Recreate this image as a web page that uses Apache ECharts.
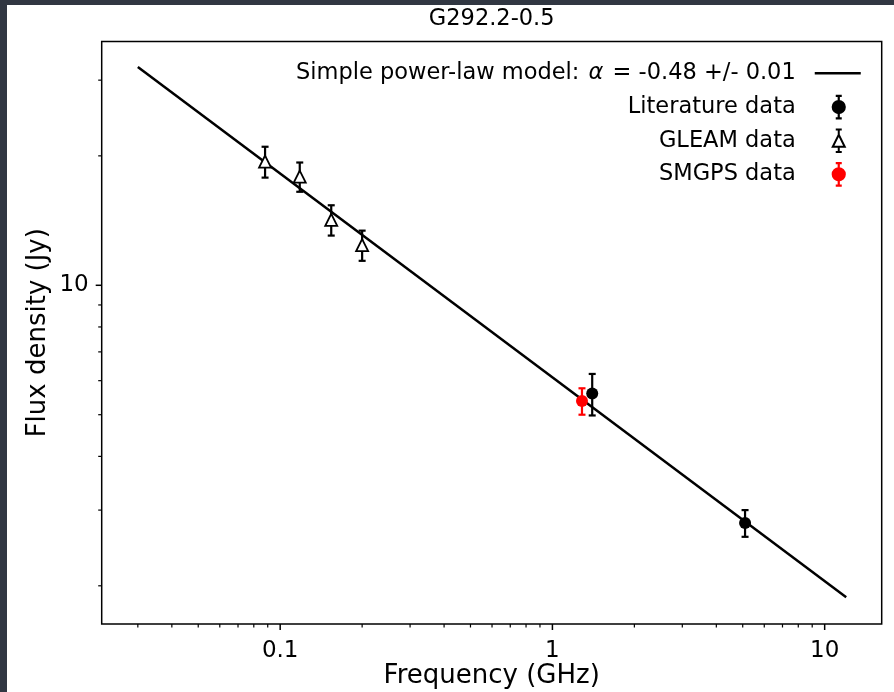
<!DOCTYPE html>
<html><head><meta charset="utf-8">
<script src="https://cdn.jsdelivr.net/npm/echarts@6/dist/echarts.min.js"></script>
<style>
html,body{margin:0;padding:0;background:#313742;width:894px;height:692px;overflow:hidden}
#c{position:absolute;left:7px;top:5px;width:887px;height:687px;background:#fff}
</style></head><body><div id="c"></div>
<script>
const chartTitle = 'G292.2-0.5';
const xAxisName = 'Frequency (GHz)';
const yAxisName = 'Flux density (Jy)';
const modelName = 'Simple power-law model: α = -0.48 +/- 0.01';
const litName = 'Literature data';
const gleamName = 'GLEAM data';
const smgpsName = 'SMGPS data';

const modelFreq = [0.03, 12];
const modelFlux = [32.2, 1.88];
const litFreq = [1.4, 5.1];
const litFlux = [5.6, 2.8];
const litErr = [0.62, 0.2];
const gleamFreq = [0.088, 0.118, 0.154, 0.200];
const gleamFlux = [19.4, 17.9, 14.2, 12.4];
const gleamErr = [1.6, 1.4, 1.15, 1.0];
const smgpsFreq = [1.284];
const smgpsFlux = [5.38];
const smgpsErr = [0.38];

const xMajorTicks = [0.1, 1, 10];
const xMinorTicks = [0.03,0.04,0.05,0.06,0.07,0.08,0.09,0.2,0.3,0.4,0.5,0.6,0.7,0.8,0.9,2,3,4,5,6,7,8,9];
const yMajorTicks = [10];
const yMinorTicks = [2,3,4,5,6,7,8,9,20,30];
const xRange = [0.0221, 16.2];
const yRange = [1.63, 36.9];

const FONT = 'DejaVu Sans';
const isDecade = v => Math.abs(Math.log10(v) - Math.round(Math.log10(v))) < 1e-6;
const fmt = v => isDecade(v) ? String(+(+v).toPrecision(6)) : '';

function pairs(xs, ys) { return xs.map((x, i) => [x, ys[i]]); }
function errData(xs, ys, es) { return xs.map((x, i) => [x, ys[i] - es[i], ys[i] + es[i]]); }

function errSeries(data, color) {
  return {
    type: 'custom', silent: true, z: 3, data: data,
    encode: {x: 0, y: [1, 2]},
    renderItem: function (p, api) {
      const x = api.value(0);
      const top = api.coord([x, api.value(2)]);
      const bot = api.coord([x, api.value(1)]);
      const cw = 3.5;
      const st = {stroke: color, lineWidth: 2.2};
      return {type: 'group', children: [
        {type: 'line', shape: {x1: top[0], y1: top[1], x2: bot[0], y2: bot[1]}, style: st},
        {type: 'line', shape: {x1: top[0] - cw, y1: top[1], x2: top[0] + cw, y2: top[1]}, style: st},
        {type: 'line', shape: {x1: bot[0] - cw, y1: bot[1], x2: bot[0] + cw, y2: bot[1]}, style: st}
      ]};
    }
  };
}

function tickSeries(values, axis, len, width) {
  return {
    type: 'custom', silent: true, clip: false, z: 6,
    data: values.map(v => axis === 'x' ? [v, yRange[0]] : [xRange[0], v]),
    renderItem: function (p, api) {
      const pt = api.coord([api.value(0), api.value(1)]);
      const shape = axis === 'x'
        ? {x1: pt[0], y1: pt[1], x2: pt[0], y2: pt[1] + len}
        : {x1: pt[0], y1: pt[1], x2: pt[0] - len, y2: pt[1]};
      return {type: 'line', shape: shape, style: {stroke: '#000', lineWidth: width}};
    }
  };
}

const box = 'M0 0L0 0M66 24L66 24';
const iconLine = 'path://' + box + 'M14 12L60 12';
const iconCircle = 'path://' + box + 'M35 0.75L41 0.75M38 0.75L38 23.25M35 23.25L41 23.25M44 12A6 6 0 1 1 32 12A6 6 0 1 1 44 12Z';
const iconTri = 'path://' + box + 'M35 0.75L41 0.75M38 0.75L38 6M38 18L38 23.25M35 23.25L41 23.25M38 6L44 18L32 18Z';

const modelParts = modelName.split('α');

const chart = echarts.init(document.getElementById('c'), null, {renderer: 'canvas'});
chart.setOption({
  animation: false,
  backgroundColor: '#fff',
  title: {
    text: chartTitle, left: 484.7, top: 3, textAlign: 'center', padding: 0,
    textStyle: {fontFamily: FONT, fontSize: 22.5, fontWeight: 'normal', color: '#000'}
  },
  grid: {left: 94.7, right: 12.3, top: 36.5, bottom: 68, show: true, borderColor: '#000', borderWidth: 1.5,
    backgroundColor: 'transparent', containLabel: false, outerBoundsMode: 'none'},
  legend: {
    orient: 'vertical', align: 'right', right: 26, top: 55, padding: 0, itemGap: 7.5,
    itemWidth: 66, itemHeight: 24, selectedMode: false,
    textStyle: {fontFamily: FONT, fontSize: 22.5, color: '#000',
      rich: {n: {fontFamily: FONT, fontSize: 22.5, color: '#000'}, a: {fontFamily: FONT, fontSize: 22.5, fontStyle: 'italic', color: '#000', padding: [0, 2, 0, 2]}}},
    formatter: name => name === modelName ? '{n|' + modelParts[0] + '}{a|α}{n|' + modelParts[1] + '}' : name,
    data: [
      {name: modelName, icon: iconLine, itemStyle: {color: '#000', borderColor: '#000', borderWidth: 2.5, opacity: 1}},
      {name: litName, icon: iconCircle, itemStyle: {color: '#000', borderColor: '#000', borderWidth: 2.2, opacity: 1}},
      {name: gleamName, icon: iconTri, itemStyle: {color: '#fff', borderColor: '#000', borderWidth: 2, opacity: 1}},
      {name: smgpsName, icon: iconCircle, itemStyle: {color: '#ff0000', borderColor: '#ff0000', borderWidth: 2.2, opacity: 1}}
    ]
  },
  xAxis: {
    type: 'log', logBase: 10, min: xRange[0], max: xRange[1],
    name: xAxisName, nameLocation: 'middle', nameGap: 39, nameMoveOverlap: false,
    nameTextStyle: {fontFamily: FONT, fontSize: 26, color: '#000'},
    axisLine: {show: false}, axisTick: {show: false}, splitLine: {show: false}, minorTick: {show: false},
    axisLabel: {formatter: fmt, margin: 16, fontFamily: FONT, fontSize: 23, color: '#000', showMinLabel: false, showMaxLabel: false}
  },
  yAxis: {
    type: 'log', logBase: 10, min: yRange[0], max: yRange[1],
    name: yAxisName, nameLocation: 'middle', nameGap: 50, nameMoveOverlap: false,
    nameTextStyle: {fontFamily: FONT, fontSize: 26, color: '#000'},
    axisLine: {show: false}, axisTick: {show: false}, splitLine: {show: false}, minorTick: {show: false},
    axisLabel: {formatter: fmt, margin: 13, fontFamily: FONT, fontSize: 23, color: '#000', showMinLabel: false, showMaxLabel: false}
  },
  series: [
    {name: modelName, type: 'line', z: 2, data: pairs(modelFreq, modelFlux), showSymbol: false, symbol: 'none',
      lineStyle: {color: '#000', width: 2.5}, itemStyle: {color: '#000'}},
    errSeries(errData(litFreq, litFlux, litErr), '#000'),
    errSeries(errData(gleamFreq, gleamFlux, gleamErr), '#000'),
    errSeries(errData(smgpsFreq, smgpsFlux, smgpsErr), '#ff0000'),
    {name: gleamName, type: 'scatter', z: 4, symbol: 'triangle', symbolSize: 12, data: pairs(gleamFreq, gleamFlux),
      itemStyle: {color: '#fff', borderColor: '#000', borderWidth: 1.8, opacity: 1}},
    {name: litName, type: 'scatter', z: 4, symbol: 'circle', symbolSize: 12, data: pairs(litFreq, litFlux),
      itemStyle: {color: '#000', opacity: 1}},
    {name: smgpsName, type: 'scatter', z: 4, symbol: 'circle', symbolSize: 12, data: pairs(smgpsFreq, smgpsFlux),
      itemStyle: {color: '#ff0000', opacity: 1}},
    tickSeries(xMajorTicks, 'x', 6, 1.5),
    tickSeries(xMinorTicks, 'x', 3.5, 1.2),
    tickSeries(yMajorTicks, 'y', 6, 1.5),
    tickSeries(yMinorTicks, 'y', 3.5, 1.2)
  ]
});
</script></body></html>
